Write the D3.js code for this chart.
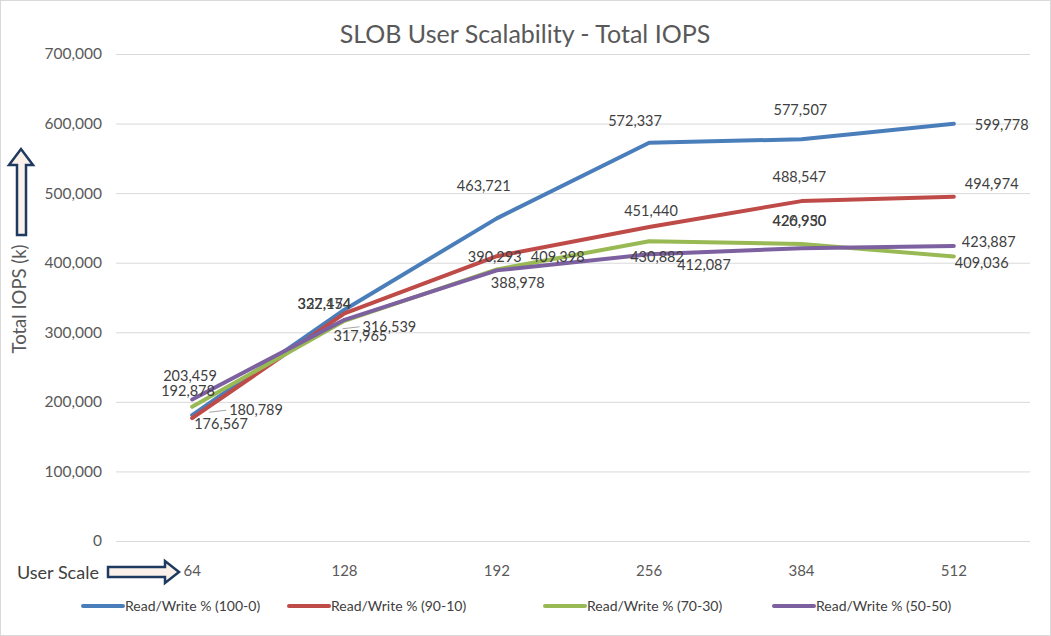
<!DOCTYPE html>
<html><head><meta charset="utf-8">
<script src="https://cdn.jsdelivr.net/npm/d3@7"></script>
<style>body{margin:0;background:#fff}svg{display:block}text{font-family:Lato,"Liberation Sans",sans-serif}</style>
</head><body><svg id="c" width="1051" height="636"></svg>
<script>
const categories = ["64","128","192","256","384","512"];
const seriesNames = ["Read/Write % (100-0)","Read/Write % (90-10)","Read/Write % (70-30)","Read/Write % (50-50)"];
const rw100 = [180789, 332454, 463721, 572337, 577507, 599778];
const rw90  = [176567, 327174, 409398, 451440, 488547, 494974];
const rw70  = [192878, 316539, 390293, 430882, 426950, 409036];
const rw50  = [203459, 317965, 388978, 412087, 420930, 423887];
const yTicks = [0,100000,200000,300000,400000,500000,600000,700000];
const colors = ["#4a7ebb","#be4b48","#98b954","#7d60a0"];
// label offsets (dx from point to text start, dy from point to text centre)
const labelOffsets = [
  [[37,-5],[-47,-6],[-40,-32],[-41,-22],[-28,-29],[21,1]],
  [[2,6],[-47,-9],[34,1],[-25,-16],[-29,-24],[11,-13]],
  [[-31,-16],[18,6],[-29,-13],[-19,16],[-29,-23],[1,6]],
  [[-29,-24],[-11,16],[-6,13],[28,11],[-29,-27],[8,-4]]
];
const leaders = [[0,0],[2,1]];
const series = [rw100, rw90, rw70, rw50];

const svg = d3.select("#c");
svg.append("rect").attr("x",0.5).attr("y",0.5).attr("width",1050).attr("height",635).attr("fill","#fff").attr("stroke","#d9d9d9");

const x = d3.scaleBand().domain(categories).range([116,1030]);
const y = d3.scaleLinear().domain([0,700000]).range([541,54]);
const fmt = d3.format(",");
const cx = c => x(c) + x.bandwidth()/2;

// grid
svg.append("g").selectAll("line").data(yTicks).join("line")
  .attr("x1",116).attr("x2",1030).attr("y1",d=>y(d)+0.5).attr("y2",d=>y(d)+0.5)
  .attr("stroke","#d9d9d9").attr("stroke-width",1);

// y axis labels
const ya = svg.append("g").attr("transform","translate(102,0)")
  .call(d3.axisLeft(y).tickValues(yTicks).tickFormat(fmt).tickSize(0).tickPadding(0));
ya.select(".domain").remove();
ya.selectAll("text").attr("font-size",15.5).attr("fill","#595959").attr("font-family","Lato");

// x axis labels
const xa = svg.append("g").attr("transform","translate(0,565)")
  .call(d3.axisBottom(x).tickSize(0).tickPadding(0));
xa.select(".domain").remove();
xa.selectAll("text").attr("font-size",15).attr("fill","#595959").attr("font-family","Lato");

// title
svg.append("text").attr("x",525).attr("y",43).attr("text-anchor","middle")
  .attr("font-size",25).attr("fill","#595959").text("SLOB User Scalability - Total IOPS");

// lines
const line = d3.line().x((d,i)=>cx(categories[i])).y(d=>y(d));
series.forEach((s,k)=>{
  svg.append("path").datum(s).attr("d",line).attr("fill","none")
    .attr("stroke",colors[k]).attr("stroke-width",4).attr("stroke-linejoin","round").attr("stroke-linecap","round");
});

// leader lines
leaders.forEach(([k,i])=>{
  const px = cx(categories[i]), py = y(series[k][i]);
  const o = labelOffsets[k][i];
  svg.append("line").attr("x1",px+ (o[0]-20)).attr("y1",py+o[1]+2).attr("x2",px+o[0]-3).attr("y2",py+o[1])
    .attr("stroke","#a6a6a6").attr("stroke-width",1);
});

// data labels
series.forEach((s,k)=>{
  svg.append("g").selectAll("text").data(s).join("text")
    .attr("x",(d,i)=>cx(categories[i])+labelOffsets[k][i][0])
    .attr("y",(d,i)=>y(d)+labelOffsets[k][i][1])
    .attr("dy","0.35em").attr("font-size",14.5).attr("fill","#404040")
    .text(d=>fmt(d));
});

// y axis title + arrow
svg.append("text").attr("transform","translate(26,299) rotate(-90)").attr("text-anchor","middle")
  .attr("font-size",18.5).attr("fill","#595959").text("Total IOPS (k)");
svg.append("path").attr("d","M17,235 L17,165 L9,165 L21,149 L33,165 L26,165 L26,235 Z")
  .attr("fill","#fbf1ea").attr("stroke","#1f3a60").attr("stroke-width",2.5).attr("stroke-linejoin","miter");

// x axis title + arrow
svg.append("text").attr("x",17).attr("y",579).attr("font-size",18).attr("fill","#404040").text("User Scale");
svg.append("path").attr("d","M108,567 L165,567 L165,561 L179,572 L165,583 L165,577 L108,577 Z")
  .attr("fill","#fbf1ea").attr("stroke","#1f3a60").attr("stroke-width",2.5);

// legend
const legX = [83, 289, 545, 774];
seriesNames.forEach((n,k)=>{
  svg.append("line").attr("x1",legX[k]).attr("x2",legX[k]+40).attr("y1",606).attr("y2",606)
    .attr("stroke",colors[k]).attr("stroke-width",4).attr("stroke-linecap","round");
  svg.append("text").attr("x",legX[k]+42).attr("y",606).attr("dy","0.35em")
    .attr("font-size",14).attr("fill","#404040").text(n);
});
</script></body></html>
